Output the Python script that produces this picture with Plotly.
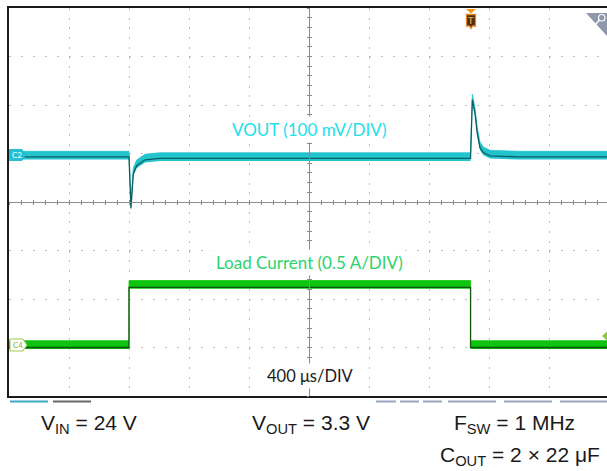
"""
Oscilloscope capture: load transient, VOUT and load current.
"""

import plotly.graph_objects as go

# time base: 400 us/DIV, screen spans 10 DIV (centre = 0 us)
US_PER_DIV = 400

# CH2: VOUT deviation (mV), 100 mV/DIV
t_vout = [-2000, -1200, -1187, -1171, -1149, -1127, -1093, -993,
          1077, 1089, 1107, 1122, 1140, 1162, 1207, 1400, 2000]
vout_mv = [0, 0, -106, -34, -18, -13, -6, -3,
           -3, 118, 89, 48, 19, 9, 2, 0, 0]
MV_PER_DIV = 100
C2_OFFSET = 0.93  # DIV

# CH4: load current (A), 0.5 A/DIV
t_load = [-2000, -1200, -1200, 1077, 1077, 2000]
i_load = [0.0, 0.0, 0.62, 0.62, 0.0, 0.0]
A_PER_DIV = 0.5
C4_OFFSET = -3.0  # DIV

# page geometry (px)
W, H = 607, 471
L, T, B = 9, 8, 396          # screen edges
PW, PH = W - L, B - T
X_RANGE = [-5 * US_PER_DIV, -5 * US_PER_DIV + PW / 60 * US_PER_DIV]


def px_x(px):
    return (px - L) / PW


def px_y(py):
    return (B - py) / PH


vout_div = [C2_OFFSET + v / MV_PER_DIV for v in vout_mv]
iload_div = [C4_OFFSET + i / A_PER_DIV for i in i_load]

fig = go.Figure()


def add_band(t, y, up, lo, band_col, line_col):
    fig.add_trace(go.Scatter(
        x=t, y=[v - lo for v in y], mode="lines",
        line=dict(width=0, color=band_col), hoverinfo="skip", showlegend=False,
    ))
    fig.add_trace(go.Scatter(
        x=t, y=[v + up for v in y], mode="lines", fill="tonexty",
        fillcolor=band_col, line=dict(width=0.8, color=band_col),
        hoverinfo="skip", showlegend=False,
    ))
    fig.add_trace(go.Scatter(
        x=t, y=y, mode="lines", line=dict(width=1.3, color=line_col),
        hoverinfo="skip", showlegend=False,
    ))


add_band(t_vout, vout_div, 0.115, 0.055, "#22C4CD", "#0D5E62")
add_band(t_load, iload_div, 0.14, 0.03, "#0EC40E", "#0B560B")

grid_common = dict(showticklabels=False, ticks="", zeroline=False, fixedrange=True)

fig.update_layout(
    width=W, height=H,
    margin=dict(l=L, r=0, t=T, b=H - B),
    paper_bgcolor="white", plot_bgcolor="white",
    showlegend=False,
    xaxis=dict(
        range=X_RANGE, dtick=US_PER_DIV, tick0=0,
        showgrid=True, gridcolor="#BEBEBE", gridwidth=1, griddash="2px,7.7px",
        showline=True, linecolor="#1A1A1A", linewidth=2, mirror=True,
        **grid_common,
    ),
    yaxis=dict(
        range=[-4, 4], dtick=1, tick0=0,
        showgrid=True, gridcolor="#BEBEBE", gridwidth=1, griddash="2px,10px",
        showline=True, linecolor="#1A1A1A", linewidth=2,
        **grid_common,
    ),
    # centre graticule lines with minor ticks
    xaxis2=dict(
        overlaying="x", anchor="free", position=0.5, range=X_RANGE,
        dtick=US_PER_DIV / 5, tick0=0, ticks="outside", ticklen=2,
        tickcolor="#8C8C8C", showline=True, linecolor="#8C8C8C", linewidth=1,
        showgrid=False, showticklabels=False, zeroline=False,
    ),
    xaxis3=dict(
        overlaying="x", anchor="free", position=0.5, range=X_RANGE,
        dtick=US_PER_DIV / 5, tick0=0, ticks="inside", ticklen=2,
        tickcolor="#8C8C8C", showline=False,
        showgrid=False, showticklabels=False, zeroline=False,
    ),
    yaxis2=dict(
        overlaying="y", anchor="free", position=px_x(309), range=[-4, 4],
        dtick=0.2, tick0=0, ticks="outside", ticklen=2,
        tickcolor="#8C8C8C", showline=True, linecolor="#8C8C8C", linewidth=1,
        showgrid=False, showticklabels=False, zeroline=False,
    ),
    yaxis3=dict(
        overlaying="y", anchor="free", position=px_x(309), range=[-4, 4],
        dtick=0.2, tick0=0, ticks="inside", ticklen=2,
        tickcolor="#8C8C8C", showline=False,
        showgrid=False, showticklabels=False, zeroline=False,
    ),
)
# empty traces so the overlay axes render
for xa, ya in [("x2", "y"), ("x3", "y"), ("x", "y2"), ("x", "y3")]:
    fig.add_trace(go.Scatter(x=[None], y=[None], xaxis=xa, yaxis=ya,
                             showlegend=False, hoverinfo="skip"))

shapes = []


def path(points):
    return "M " + " L ".join(f"{px_x(a):.5f},{px_y(b):.5f}" for a, b in points) + " Z"


# channel badges
shapes.append(dict(type="path", xref="paper", yref="paper",
                   path=path([(9, 149), (22, 149), (26, 155), (22, 161), (9, 161)]),
                   fillcolor="#22BFD6", line=dict(width=0)))
shapes.append(dict(type="path", xref="paper", yref="paper",
                   path=path([(10, 339), (23, 339), (27, 345), (23, 351), (10, 351)]),
                   fillcolor="white", line=dict(width=1, color="#9BCB4A")))
# C4 trigger level marker (right edge)
shapes.append(dict(type="path", xref="paper", yref="paper",
                   path=path([(602, 336), (607, 331.5), (607, 340.5)]),
                   fillcolor="#8DC63F", line=dict(width=0)))
# trigger marker
shapes.append(dict(type="path", xref="paper", yref="paper",
                   path=path([(466, 9), (476, 9), (471, 13.5)]),
                   fillcolor="#F7941D", line=dict(width=0)))
shapes.append(dict(type="path", xref="paper", yref="paper",
                   path=path([(466.5, 14.5), (475.5, 14.5), (475.5, 26), (472.5, 26),
                              (471, 28.5), (469.5, 26), (466.5, 26)]),
                   fillcolor="#4A2C12", line=dict(width=1.3, color="#E2862C")))
# zoom corner
shapes.append(dict(type="path", xref="paper", yref="paper",
                   path=path([(586, 13), (607, 13), (607, 36)]),
                   fillcolor="#8F97AB", line=dict(width=0)))
shapes.append(dict(type="circle", xref="paper", yref="paper",
                   x0=px_x(598.5), x1=px_x(605), y0=px_y(21), y1=px_y(14.5),
                   line=dict(width=1.2, color="white")))
shapes.append(dict(type="line", xref="paper", yref="paper",
                   x0=px_x(599.5), x1=px_x(595.5), y0=px_y(20), y1=px_y(24.5),
                   line=dict(width=1.5, color="white")))
# status bars under the screen
for x0, x1, col in [(10, 48, "#3FA9C0"), (53, 91, "#6A6A6A"),
                    (376, 396, "#9AA5BD"), (400, 419, "#9AA5BD"), (423, 442, "#9AA5BD"),
                    (448, 496, "#9AA5BD"), (504, 552, "#9AA5BD"), (560, 607, "#9AA5BD")]:
    shapes.append(dict(type="line", xref="paper", yref="paper",
                       x0=px_x(x0), x1=px_x(x1), y0=px_y(401.5), y1=px_y(401.5),
                       line=dict(width=2, color=col)))
fig.update_layout(shapes=shapes)

LABEL_FONT = "Lato, 'Open Sans', sans-serif"
BOTTOM_FONT = "'Liberation Sans', Arial, sans-serif"

annotations = [
    dict(text="C2", x=px_x(16.5), y=px_y(155), font=dict(size=8, color="white", family=LABEL_FONT)),
    dict(text="C4", x=px_x(17.5), y=px_y(345), font=dict(size=8, color="#7FB72F", family=LABEL_FONT)),
    dict(text="<b>T</b>", x=px_x(471), y=px_y(20.5), font=dict(size=9, color="#F29A3A", family=LABEL_FONT)),
    dict(text="VOUT (100 mV/DIV)", x=px_x(309), y=px_y(129), bgcolor="white", borderpad=2,
         font=dict(size=17, color="#1CE0EC", family=LABEL_FONT)),
    dict(text="Load Current (0.5 A/DIV)", x=px_x(309), y=px_y(262), bgcolor="white", borderpad=2,
         font=dict(size=17, color="#2ED26C", family=LABEL_FONT)),
    dict(text="400 μs/DIV", x=px_x(310), y=px_y(376), bgcolor="white", borderpad=2,
         font=dict(size=16.5, color="#1A1A1A", family=LABEL_FONT)),
    dict(text="V<sub>IN</sub> = 24 V", x=px_x(88.5), y=px_y(424),
         font=dict(size=21, color="#1A1A1A", family=BOTTOM_FONT)),
    dict(text="V<sub>OUT</sub> = 3.3 V", x=px_x(310.5), y=px_y(424),
         font=dict(size=21, color="#1A1A1A", family=BOTTOM_FONT)),
    dict(text="F<sub>SW</sub> = 1 MHz", x=px_x(514.5), y=px_y(424),
         font=dict(size=21, color="#1A1A1A", family=BOTTOM_FONT)),
    dict(text="C<sub>OUT</sub> = 2 × 22 μF", x=px_x(519.5), y=px_y(456),
         font=dict(size=21, color="#1A1A1A", family=BOTTOM_FONT)),
]
for a in annotations:
    a.update(xref="paper", yref="paper", showarrow=False,
             xanchor="center", yanchor="middle")
fig.update_layout(annotations=annotations)

# drop the default body margin so the figure fills the page
fig.write_html("out.html", config={"displayModeBar": False},
               post_script="document.body.style.margin = '0';")
